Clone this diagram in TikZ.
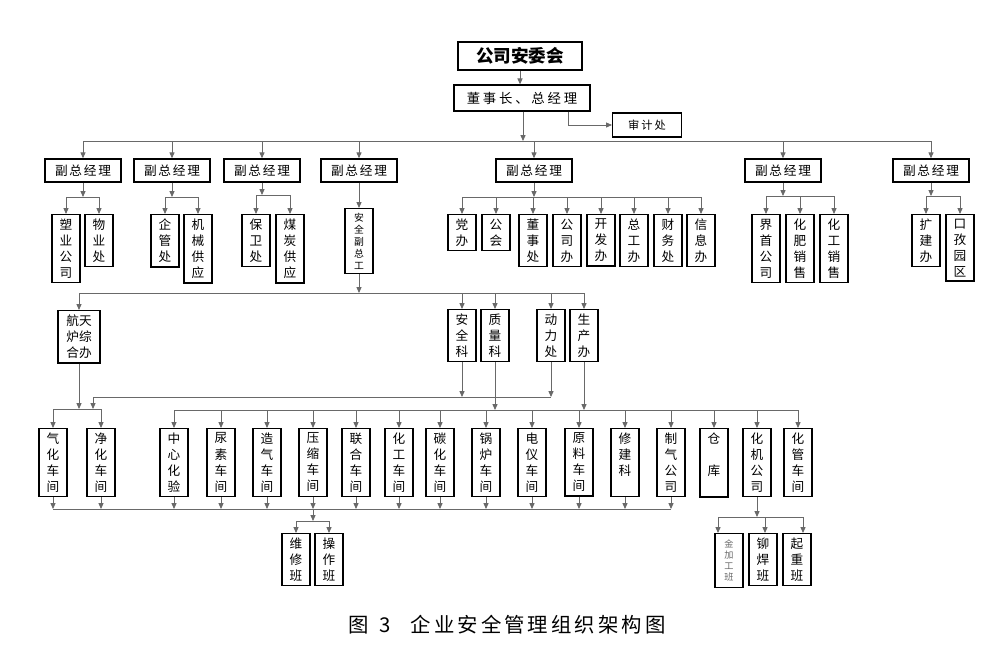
\documentclass[tikz,border=0pt]{standalone}
\usepackage{fontspec}
\usepackage{tikz}
\usetikzlibrary{arrows.meta, calc}
\newfontfamily\cjk{Noto Sans CJK SC}
\definecolor{linea}{RGB}{105,105,105}
\tikzset{
  topbox/.style={rectangle, draw, line width=1.8pt, minimum width=3.1cm, minimum height=0.7cm,
                 font=\cjk\bfseries\fontsize{12.5pt}{14pt}\selectfont},
  dept/.style={rectangle, draw, line width=0.9pt, minimum width=1.9cm, minimum height=0.58cm,
               inner xsep=2pt, font=\cjk\fontsize{9pt}{11pt}\selectfont\addfontfeature{LetterSpace=14}},
  col/.style={rectangle, draw, line width=0.9pt, anchor=north, align=center, minimum width=0.7cm,
              inner xsep=0pt, inner ysep=3pt, font=\cjk\fontsize{9pt}{11.4pt}\selectfont},
  colsmall/.style={col, font=\cjk\fontsize{7pt}{8.6pt}\selectfont},
  flecha/.style={-{Triangle[length=4.2pt, width=3.6pt]}, linea, line width=0.6pt},
  enlace/.style={linea, line width=0.6pt}
}
\begin{document}
\begin{tikzpicture}[x=0.025cm, y=-0.025cm]
    \useasboundingbox (0,0) rectangle (1004,670);
    % cabecera
    \node[topbox] (akw) at (520,56) {公司安委会};
    \node[dept, minimum width=3.4cm, minimum height=0.65cm,
          font=\cjk\fontsize{9.5pt}{11pt}\selectfont\addfontfeature{LetterSpace=21}] (dsz) at (522,98) {董事长、总经理};
    \node[dept, minimum width=1.72cm, minimum height=0.6cm,
          font=\cjk\fontsize{8pt}{10pt}\selectfont\addfontfeature{LetterSpace=18}] (sjc) at (647,125) {审计处};
    \coordinate (b1) at (523,141);
    \draw[flecha] (akw.south) -- (akw.south |- dsz.north);
    \draw[flecha] (b1 |- dsz.south) -- (b1);
    \draw[flecha] ($(dsz.south)+(46,0)$) |- (sjc.west);
    %副总经理
    \node[dept] (fz1) at (83,170.5) {副总经理};
    \node[dept] (fz2) at (172,170.5) {副总经理};
    \node[dept] (fz3) at (262,170.5) {副总经理};
    \node[dept] (fz4) at (359,170.5) {副总经理};
    \node[dept] (fz5) at (534,170.5) {副总经理};
    \node[dept] (fz6) at (783,170.5) {副总经理};
    \node[dept] (fz7) at (931,170.5) {副总经理};
    \draw[enlace] (b1 -| fz1) -- (b1 -| fz7);
    \draw[flecha] (b1 -| fz1) -- (fz1.north);
    \draw[flecha] (b1 -| fz2) -- (fz2.north);
    \draw[flecha] (b1 -| fz3) -- (fz3.north);
    \draw[flecha] (b1 -| fz4) -- (fz4.north);
    \draw[flecha] (b1 -| fz5) -- (fz5.north);
    \draw[flecha] (b1 -| fz6) -- (fz6.north);
    \draw[flecha] (b1 -| fz7) -- (fz7.north);
    % grupo 1
    \node[col] (syg) at (66,214) {塑\\业\\公\\司};
    \node[col] (wyc) at (99,214) {物\\业\\处};
    \coordinate (s1) at (83,197);
    \draw[flecha] (fz1.south) -- (s1);
    \draw[enlace] (s1 -| syg) -- (s1 -| wyc);
    \draw[flecha] (s1 -| syg) -- (syg.north);
    \draw[flecha] (s1 -| wyc) -- (wyc.north);
    % grupo 2
    \node[col] (qgc) at (165,214) {企\\管\\处};
    \node[col] (jxgy) at (198,214) {机\\械\\供\\应};
    \coordinate (s2) at (172,197);
    \draw[flecha] (fz2.south) -- (s2);
    \draw[enlace] (s2 -| qgc) -- (s2 -| jxgy);
    \draw[flecha] (s2 -| qgc) -- (qgc.north);
    \draw[flecha] (s2 -| jxgy) -- (jxgy.north);
    % grupo 3
    \node[col] (bwc) at (256,214) {保\\卫\\处};
    \node[col] (mtgy) at (290,214) {煤\\炭\\供\\应};
    \coordinate (s3) at (262,195);
    \draw[flecha] (fz3.south) -- (s3);
    \draw[enlace] (s3 -| bwc) -- (s3 -| mtgy);
    \draw[flecha] (s3 -| bwc) -- (bwc.north);
    \draw[flecha] (s3 -| mtgy) -- (mtgy.north);
    % grupo 4
    \node[colsmall] (aqfzg) at (359,208) {安\\全\\副\\总\\工};
    \draw[flecha] (fz4.south) -- (aqfzg.north);
    % grupo 5
    \node[col] (dban) at (462,214) {党\\办};
    \node[col] (ghui) at (496,214) {公\\会};
    \node[col] (dsc) at (533,214) {董\\事\\处};
    \node[col] (gsb) at (567,214) {公\\司\\办};
    \node[col] (kfb) at (601,214) {开\\发\\办};
    \node[col] (zgb) at (634,214) {总\\工\\办};
    \node[col] (cwc) at (668,214) {财\\务\\处};
    \node[col] (xxb) at (701,214) {信\\息\\办};
    \coordinate (s5) at (534,197);
    \draw[flecha] (fz5.south) -- (s5);
    \draw[enlace] (s5 -| dban) -- (s5 -| xxb);
    \draw[flecha] (s5 -| dban) -- (dban.north);
    \draw[flecha] (s5 -| ghui) -- (ghui.north);
    \draw[flecha] (s5 -| dsc) -- (dsc.north);
    \draw[flecha] (s5 -| gsb) -- (gsb.north);
    \draw[flecha] (s5 -| kfb) -- (kfb.north);
    \draw[flecha] (s5 -| zgb) -- (zgb.north);
    \draw[flecha] (s5 -| cwc) -- (cwc.north);
    \draw[flecha] (s5 -| xxb) -- (xxb.north);
    % grupo 6
    \node[col] (jsgs) at (766,214) {界\\首\\公\\司};
    \node[col] (hfxs) at (800,214) {化\\肥\\销\\售};
    \node[col] (hgxs) at (834,214) {化\\工\\销\\售};
    \coordinate (s6) at (783,196);
    \draw[flecha] (fz6.south) -- (s6);
    \draw[enlace] (s6 -| jsgs) -- (s6 -| hgxs);
    \draw[flecha] (s6 -| jsgs) -- (jsgs.north);
    \draw[flecha] (s6 -| hfxs) -- (hfxs.north);
    \draw[flecha] (s6 -| hgxs) -- (hgxs.north);
    % grupo 7
    \node[col] (kjb) at (926,214) {扩\\建\\办};
    \node[col] (kzyq) at (960,214) {口\\孜\\园\\区};
    \coordinate (s7) at (931,196);
    \draw[flecha] (fz7.south) -- (s7);
    \draw[enlace] (s7 -| kjb) -- (s7 -| kzyq);
    \draw[flecha] (s7 -| kjb) -- (kjb.north);
    \draw[flecha] (s7 -| kzyq) -- (kzyq.north);
    % nivel 3
    \node[col, minimum width=1.05cm] (htl) at (79,310) {航天\\炉综\\合办};
    \node[col] (aqk) at (462,309) {安\\全\\科};
    \node[col] (zlk) at (495,309) {质\\量\\科};
    \node[col] (dlc) at (551,309) {动\\力\\处};
    \node[col] (scb) at (584,309) {生\\产\\办};
    \coordinate (b2) at (359,293);
    \draw[flecha] (aqfzg.south) -- (b2);
    \draw[enlace] (b2 -| htl) -- (b2 -| scb);
    \draw[flecha] (b2 -| htl) -- (htl.north);
    \draw[flecha] (b2 -| aqk) -- (aqk.north);
    \draw[flecha] (b2 -| zlk) -- (zlk.north);
    \draw[flecha] (b2 -| dlc) -- (dlc.north);
    \draw[flecha] (b2 -| scb) -- (scb.north);
    %車間
    \node[col] (qhcj) at (53,428) {气\\化\\车\\间};
    \node[col] (jhcj) at (101,428) {净\\化\\车\\间};
    \node[col] (zxhy) at (174,428) {中\\心\\化\\验};
    \node[col] (nscj) at (221,428) {尿\\素\\车\\间};
    \node[col] (zqcj) at (267,428) {造\\气\\车\\间};
    \node[col] (yscj) at (313,428) {压\\缩\\车\\间};
    \node[col] (lhcj) at (356,428) {联\\合\\车\\间};
    \node[col] (hgcj) at (399,428) {化\\工\\车\\间};
    \node[col] (thcj) at (440,428) {碳\\化\\车\\间};
    \node[col] (glcj) at (486,428) {锅\\炉\\车\\间};
    \node[col] (dycj) at (532,428) {电\\仪\\车\\间};
    \node[col] (ylcj) at (579,428) {原\\料\\车\\间};
    \node[col] (xjk) at (625,428) {修\\建\\科\\\phantom{科}};
    \node[col] (zqgs) at (671,428) {制\\气\\公\\司};
    \node[col] (ck) at (714,428) {仓\\\phantom{库}\\库\\\phantom{库}};
    \node[col] (hjgs) at (757,428) {化\\机\\公\\司};
    \node[col] (hgucj) at (798,428) {化\\管\\车\\间};
    \coordinate (b3) at (93,397);
    \coordinate (b4l) at (93,409);
    \coordinate (b4) at (495,410);
    \draw[flecha] (aqk.south) -- (aqk.south |- b3);
    \draw[flecha] (dlc.south) -- (dlc.south |- b3);
    \draw[enlace] (b3) -- (b3 -| dlc);
    \draw[flecha] (b3) -- (b4l);
    \draw[flecha] (htl.south) -- (htl.south |- b4l);
    \draw[enlace] (b4l -| qhcj) -- (b4l -| jhcj);
    \draw[flecha] (b4l -| qhcj) -- (qhcj.north);
    \draw[flecha] (b4l -| jhcj) -- (jhcj.north);
    \draw[flecha] (zlk.south) -- (b4);
    \draw[flecha] (scb.south) -- (scb.south |- b4);
    \draw[enlace] (b4 -| zxhy) -- (b4 -| hgucj);
    \draw[flecha] (b4 -| zxhy) -- (zxhy.north);
    \draw[flecha] (b4 -| nscj) -- (nscj.north);
    \draw[flecha] (b4 -| zqcj) -- (zqcj.north);
    \draw[flecha] (b4 -| yscj) -- (yscj.north);
    \draw[flecha] (b4 -| lhcj) -- (lhcj.north);
    \draw[flecha] (b4 -| hgcj) -- (hgcj.north);
    \draw[flecha] (b4 -| thcj) -- (thcj.north);
    \draw[flecha] (b4 -| glcj) -- (glcj.north);
    \draw[flecha] (b4 -| dycj) -- (dycj.north);
    \draw[flecha] (b4 -| ylcj) -- (ylcj.north);
    \draw[flecha] (b4 -| xjk) -- (xjk.north);
    \draw[flecha] (b4 -| zqgs) -- (zqgs.north);
    \draw[flecha] (b4 -| ck) -- (ck.north);
    \draw[flecha] (b4 -| hjgs) -- (hjgs.north);
    \draw[flecha] (b4 -| hgucj) -- (hgucj.north);
    % salida inferior
    \coordinate (b5) at (313,509);
    \draw[enlace] (b5 -| qhcj) -- (b5 -| zqgs);
    \draw[flecha] (qhcj.south) -- (qhcj.south |- b5);
    \draw[flecha] (jhcj.south) -- (jhcj.south |- b5);
    \draw[flecha] (zxhy.south) -- (zxhy.south |- b5);
    \draw[flecha] (nscj.south) -- (nscj.south |- b5);
    \draw[flecha] (zqcj.south) -- (zqcj.south |- b5);
    \draw[flecha] (yscj.south) -- (yscj.south |- b5);
    \draw[flecha] (lhcj.south) -- (lhcj.south |- b5);
    \draw[flecha] (hgcj.south) -- (hgcj.south |- b5);
    \draw[flecha] (thcj.south) -- (thcj.south |- b5);
    \draw[flecha] (glcj.south) -- (glcj.south |- b5);
    \draw[flecha] (dycj.south) -- (dycj.south |- b5);
    \draw[flecha] (ylcj.south) -- (ylcj.south |- b5);
    \draw[flecha] (xjk.south) -- (xjk.south |- b5);
    \draw[flecha] (zqgs.south) -- (zqgs.south |- b5);
    % 班组
    \node[col] (wxb) at (296,533) {维\\修\\班};
    \node[col] (czb) at (329,533) {操\\作\\班};
    \coordinate (s8) at (313,521);
    \draw[flecha] (b5) -- (s8);
    \draw[enlace] (s8 -| wxb) -- (s8 -| czb);
    \draw[flecha] (s8 -| wxb) -- (wxb.north);
    \draw[flecha] (s8 -| czb) -- (czb.north);
    \node[col, minimum height=1.35cm, text=black!60, font=\cjk\fontsize{6.5pt}{7.8pt}\selectfont] (jjgb) at (729,533) {金\\加\\工\\班};
    \node[col] (mhb) at (763,533) {铆\\焊\\班};
    \node[col] (qzb) at (797,533) {起\\重\\班};
    \coordinate (s9) at (757,517);
    \draw[flecha] (hjgs.south) -- (s9);
    \draw[enlace] ($(jjgb.north |- s9)+(-11,0)$) -- ($(qzb.north |- s9)+(6,0)$);
    \draw[flecha] ($(jjgb.north |- s9)+(-11,0)$) -- ($(jjgb.north)+(-11,0)$);
    \draw[flecha] ($(mhb.north |- s9)+(2,0)$) -- ($(mhb.north)+(2,0)$);
    \draw[flecha] ($(qzb.north |- s9)+(6,0)$) -- ($(qzb.north)+(6,0)$);
    % pie
    \node[font=\cjk\fontsize{14.5pt}{16pt}\selectfont\addfontfeature{LetterSpace=15}] (pie) at (507,625)
      {图\hspace{0.5em}3\hspace{1em}企业安全管理组织架构图};
\end{tikzpicture}
\end{document}
